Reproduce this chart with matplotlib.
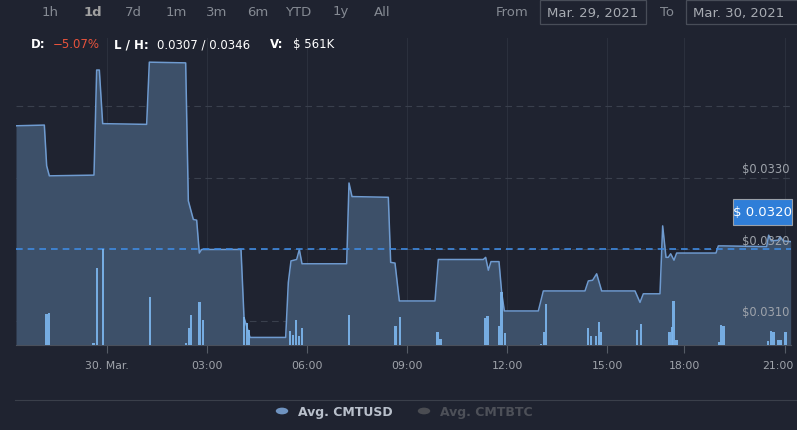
import matplotlib
matplotlib.use("Agg")
import matplotlib.pyplot as plt
from matplotlib.patches import Rectangle, Circle
from matplotlib.transforms import ScaledTranslation

# price line (hours since 30 Mar 00:00, ordinal-ish positions) and $ price
price_hours = [-2.73, -1.88, -1.81, -1.73, -0.39, -0.31, -0.23, -0.13, 1.19, 1.27,
               2.36, 2.44, 2.59, 2.69, 2.77, 2.84, 4.02, 4.11, 4.29, 5.36,
               5.44, 5.52, 5.69, 5.77, 5.85, 7.19, 7.26, 7.35, 8.44, 8.51,
               8.64, 8.77, 9.84, 9.94, 11.29, 11.36, 11.44, 11.52, 11.76, 11.84,
               11.92, 12.94, 13.09, 14.34, 14.44, 14.57, 14.69, 14.84, 15.84, 15.99,
               16.09, 16.59, 16.67, 16.77, 16.84, 16.91, 17.01, 17.09, 18.27, 18.34,
               18.49, 19.79, 19.85, 19.93, 20.14, 20.19, 20.29, 20.51]
price_values = [0.03373, 0.03374, 0.03317, 0.03303, 0.03304, 0.03451, 0.03451, 0.03376, 0.03375, 0.03462,
                0.03461, 0.03268, 0.03242, 0.03241, 0.03195, 0.03200, 0.03200, 0.03105, 0.03077, 0.03077,
                0.03154, 0.03184, 0.03186, 0.03200, 0.03180, 0.03180, 0.03293, 0.03274, 0.03273, 0.03182,
                0.03181, 0.03128, 0.03128, 0.03186, 0.03186, 0.03189, 0.03171, 0.03183, 0.03183, 0.03140,
                0.03114, 0.03114, 0.03142, 0.03142, 0.03156, 0.03157, 0.03166, 0.03142, 0.03142, 0.03126,
                0.03138, 0.03138, 0.03233, 0.03189, 0.03189, 0.03194, 0.03185, 0.03195, 0.03195, 0.03205,
                0.03205, 0.03204, 0.03220, 0.03212, 0.03213, 0.03218, 0.03212, 0.03211]

# volume bars, $K
vol_hours = [-1.82, -1.74, -0.41, -0.30, -0.13, 1.29, 2.37, 2.45, 2.53, 2.78,
             2.87, 4.11, 4.19, 4.26, 5.49, 5.59, 5.67, 5.77, 5.84, 7.26,
             8.66, 8.79, 9.92, 10.01, 11.34, 11.42, 11.76, 11.84, 11.94, 13.02,
             13.10, 13.17, 14.43, 14.52, 14.66, 14.76, 14.83, 15.90, 16.02, 16.87,
             16.94, 17.00, 17.09, 18.35, 18.42, 18.50, 19.83, 19.92, 20.00, 20.13,
             20.21, 20.36]
vol_k = [15.5, 16, 1, 38.5, 48, 24, 1, 8.5, 15, 21.5,
         12.5, 14, 11, 7.5, 7, 5, 12.5, 4.5, 8.5, 15,
         9.5, 14, 6.5, 3, 13.5, 14.5, 9.5, 26.5, 6, 0.5,
         6.5, 20.5, 8.5, 4.5, 4.5, 11.5, 6.5, 7.5, 10.5, 6.5,
         9, 22, 2.5, 1.5, 10, 9.5, 2, 7, 6.5, 2.5,
         2.5, 6.5]

tick_pos = [0, 3, 6, 9, 12, 15, 17.31, 20.34]
tick_labels = ["30. Mar.", "03:00", "06:00", "09:00", "12:00", "15:00", "18:00", "21:00"]
price_ticks = [0.0310, 0.0320, 0.0330]
current_price = 0.0320
ranges = ["1h", "1d", "7d", "1m", "3m", "6m", "YTD", "1y", "All"]

BG = "#1f2330"
W, H = 797, 431

def fx(x):
    return x / W

def fy(y):
    return 1 - y / H

fig = plt.figure(figsize=(7.97, 4.31), dpi=100, facecolor=BG)
ax = fig.add_axes([fx(16), fy(346), fx(791) - fx(16), fy(39) - fy(346)])
ax.set_facecolor(BG)
ymin, ymax = 0.030664, 0.034958
ax.set_xlim(-2.73, 20.52)
ax.set_ylim(ymin, ymax)

for t in tick_pos:
    ax.axvline(t, color="#2b303d", lw=0.8, zorder=0)
for p in price_ticks + [0.0340]:
    ax.axhline(p, color="#3a404d", lw=0.8, ls=(0, (6, 4)), zorder=0)

ax.fill_between(price_hours, price_values, ymin, color="#3d5069", lw=0, zorder=1)
ax.plot(price_hours, price_values, color="#6f9bd0", lw=1.1, zorder=3)
ax.axhline(current_price, color="#3f8ae0", lw=1.2, ls=(0, (4, 3)), zorder=4)

for p in price_ticks:
    ax.text(20.47, p + 0.00004, "$%.4f" % p, color="#9ea3ab", fontsize=8.3,
            ha="right", va="bottom", zorder=5)

ax.set_xticks(tick_pos)
ax.set_xticklabels(tick_labels, color="#a0a4ab", fontsize=7.8)
ax.tick_params(axis="x", length=6, color="#555b66", pad=5)
last = ax.get_xticklabels()[-1]
last.set_transform(last.get_transform() + ScaledTranslation(-5 / 72, 0, fig.dpi_scale_trans))
ax.set_yticks([])
for s in ["top", "right", "left"]:
    ax.spines[s].set_visible(False)
ax.spines["bottom"].set_color("#4a505c")

vax = ax.twinx()
vax.set_ylim(0, 153.5)
vax.bar(vol_hours, vol_k, width=0.07, color="#7cb5ec", alpha=0.92, lw=0, zorder=2)
vax.set_yticks([])
vax.patch.set_visible(False)
for s in vax.spines.values():
    s.set_visible(False)

# current price label
fig.patches.append(Rectangle((fx(733), fy(226)), fx(59), fy(200) - fy(226),
                             transform=fig.transFigure, facecolor="#2f7ed8",
                             edgecolor="#9aa0a8", lw=0.8))
fig.text(fx(762.5), fy(213), "$ 0.0320", color="white", fontsize=9.5,
         ha="center", va="center")

# range buttons
range_x = [50, 93, 133, 176, 217, 258, 298, 341, 382]
for lab, x in zip(ranges, range_x):
    fig.text(fx(x), fy(12), lab, color="#a0a0a0" if lab == "1d" else "#858a93",
             fontsize=9.5, fontweight="bold" if lab == "1d" else "normal",
             ha="center", va="center")

fig.text(fx(512), fy(12), "From", color="#858a93", fontsize=9.5, ha="center", va="center")
fig.text(fx(667), fy(12), "To", color="#858a93", fontsize=9.5, ha="center", va="center")
for x0, x1, lab in [(540, 646, "Mar. 29, 2021"), (686, 800, "Mar. 30, 2021")]:
    fig.patches.append(Rectangle((fx(x0), fy(25)), fx(x1 - x0), fy(1) - fy(25),
                                 transform=fig.transFigure, facecolor="none",
                                 edgecolor="#484d58", lw=0.9))
    fig.text(fx(x0 + 7), fy(13), lab, color="#a7abb2", fontsize=9.5, va="center")

# info line
info = [(31, "D:", "white", "bold"), (53, "\u22125.07%", "#e8533c", "normal"),
        (114, "L / H:", "white", "bold"), (157, "0.0307 / 0.0346", "white", "normal"),
        (270, "V:", "white", "bold"), (293, "$ 561K", "white", "normal")]
for x, s, c, w in info:
    fig.text(fx(x), fy(45), s, color=c, fontsize=8.5, fontweight=w, va="center")

# legend
fig.add_artist(plt.Line2D([fx(15), 1], [fy(401), fy(401)], color="#3a3f4a", lw=0.8))
fig.patches.append(Circle((fx(282), fy(412)), 0.0078, transform=fig.transFigure,
                          facecolor="#6f93c0", edgecolor="none"))
fig.text(fx(298), fy(413), "Avg. CMTUSD", color="#b9c0cb", fontsize=9,
         fontweight="bold", va="center")
fig.patches.append(Circle((fx(424), fy(412)), 0.0078, transform=fig.transFigure,
                          facecolor="#4a4c52", edgecolor="none"))
fig.text(fx(440), fy(413), "Avg. CMTBTC", color="#4d5058", fontsize=9,
         fontweight="bold", va="center")

fig.savefig("out.png", dpi=100, facecolor=BG)
